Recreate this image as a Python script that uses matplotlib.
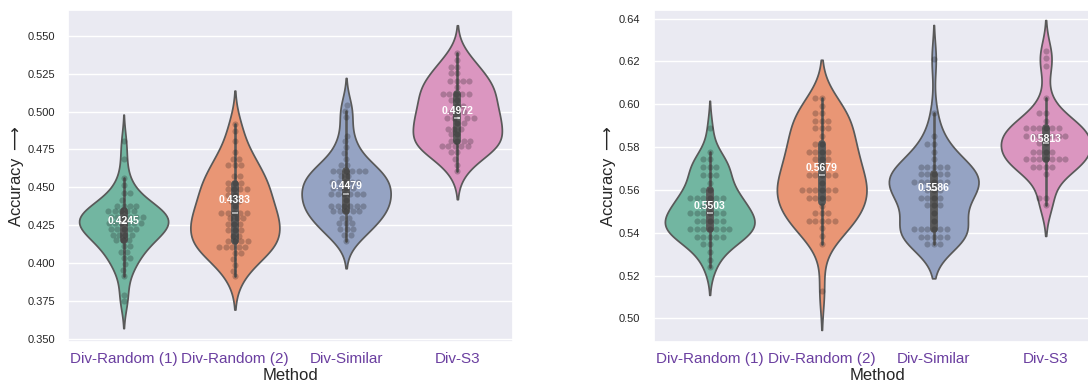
import numpy as np
import pandas as pd
import seaborn as sns
import matplotlib.pyplot as plt

methods = ["Div-Random (1)", "Div-Random (2)", "Div-Similar", "Div-S3"]

# left panel: accuracy levels and how many runs sit on each
left_r1_lv = [0.4803, 0.4687, 0.4565, 0.4517, 0.4462, 0.4418, 0.4379, 0.4341, 0.4304, 0.4265, 0.4227,
              0.4187, 0.4150, 0.4110, 0.4071, 0.4034, 0.3994, 0.3957, 0.3917, 0.3792, 0.3748]
left_r1_n = [1, 1, 1, 1, 2, 1, 4, 5, 6, 6, 5, 4, 3, 2, 2, 2, 1, 1, 1, 1, 1]
left_r2_lv = [0.4920, 0.4869, 0.4803, 0.4730, 0.4687, 0.4649, 0.4572, 0.4532, 0.4491, 0.4451, 0.4407, 0.4374,
              0.4334, 0.4297, 0.4260, 0.4220, 0.4181, 0.4143, 0.4104, 0.4067, 0.4027, 0.3989, 0.3950, 0.3912]
left_r2_n = [1, 1, 1, 1, 2, 3, 2, 3, 4, 2, 2, 1, 5, 3, 3, 3, 2, 4, 5, 2, 1, 1, 1, 1]
left_sim_lv = [0.5040, 0.5001, 0.4961, 0.4842, 0.4803, 0.4763, 0.4726, 0.4689, 0.4649, 0.4610, 0.4572,
               0.4535, 0.4495, 0.4456, 0.4418, 0.4379, 0.4341, 0.4301, 0.4265, 0.4225, 0.4187, 0.4148]
left_sim_n = [1, 1, 1, 1, 1, 1, 1, 1, 2, 6, 2, 5, 4, 6, 1, 6, 5, 2, 3, 3, 2, 1]
left_s3_lv = [0.5386, 0.5342, 0.5297, 0.5254, 0.5199, 0.5159, 0.5117, 0.5078, 0.5034, 0.4994,
              0.4957, 0.4924, 0.4887, 0.4852, 0.4809, 0.4770, 0.4733, 0.4687, 0.4649, 0.4605]
left_s3_n = [1, 1, 2, 2, 4, 1, 5, 2, 2, 3, 4, 2, 3, 2, 4, 5, 2, 1, 1, 1]
left_means = [0.4245, 0.4383, 0.4479, 0.4972]

# right panel
right_r1_lv = [0.5887, 0.5778, 0.5744, 0.5708, 0.5670, 0.5634, 0.5600, 0.5564, 0.5527,
               0.5491, 0.5455, 0.5418, 0.5382, 0.5346, 0.5312, 0.5273, 0.5239]
right_r1_n = [1, 1, 2, 3, 3, 1, 2, 6, 2, 6, 5, 7, 5, 2, 1, 1, 1]
right_r2_lv = [0.6027, 0.5993, 0.5957, 0.5923, 0.5887, 0.5851, 0.5814, 0.5778, 0.5743, 0.5705, 0.5669,
               0.5634, 0.5598, 0.5561, 0.5526, 0.5491, 0.5455, 0.5421, 0.5385, 0.5348, 0.5127]
right_r2_n = [2, 1, 2, 3, 3, 1, 2, 4, 3, 1, 5, 1, 6, 4, 1, 3, 5, 1, 1, 1, 1]
right_sim_lv = [0.6209, 0.5957, 0.5851, 0.5814, 0.5778, 0.5743, 0.5708, 0.5673, 0.5635,
                0.5600, 0.5564, 0.5530, 0.5491, 0.5456, 0.5419, 0.5382, 0.5348]
right_sim_n = [1, 1, 1, 2, 1, 1, 5, 5, 6, 3, 4, 3, 1, 1, 6, 5, 3]
right_s3_lv = [0.6248, 0.6214, 0.6178, 0.6030, 0.5957, 0.5923, 0.5887, 0.5851,
               0.5817, 0.5778, 0.5743, 0.5708, 0.5673, 0.5564, 0.5530]
right_s3_n = [1, 1, 1, 1, 2, 1, 6, 7, 2, 4, 7, 4, 1, 2, 1]
right_means = [0.5503, 0.5679, 0.5586, 0.5813]


def make_df(groups):
    rows = []
    for m, (lv, n) in zip(methods, groups):
        for v in np.repeat(lv, n):
            rows.append((m, v))
    return pd.DataFrame(rows, columns=["Method", "Accuracy"])


df_left = make_df([(left_r1_lv, left_r1_n), (left_r2_lv, left_r2_n),
                   (left_sim_lv, left_sim_n), (left_s3_lv, left_s3_n)])
df_right = make_df([(right_r1_lv, right_r1_n), (right_r2_lv, right_r2_n),
                    (right_sim_lv, right_sim_n), (right_s3_lv, right_s3_n)])

sns.set_theme(style="darkgrid")
plt.rcParams["font.family"] = ["Liberation Sans", "DejaVu Sans"]

fig = plt.figure(figsize=(10.88, 3.84), dpi=100)
ax1 = fig.add_axes([0.0625, 0.1094, 0.409, 0.8646])
ax2 = fig.add_axes([0.6008, 0.1094, 0.4118, 0.8646])


def draw(ax, df, means, ylim):
    sns.violinplot(data=df, x="Method", y="Accuracy", hue="Method", palette="Set2",
                   inner="box", legend=False, ax=ax, order=methods)
    sns.swarmplot(data=df, x="Method", y="Accuracy", color="k", alpha=0.25,
                  size=4.4, ax=ax, order=methods)
    for i, m in enumerate(means):
        ax.text(i, m, f"{m:.4f}", color="white", ha="center", va="bottom",
                fontsize=7.5, fontweight="bold")
    ax.set_ylim(*ylim)
    ax.set_xlabel("Method", fontsize=12, labelpad=2)
    ax.set_ylabel(r"Accuracy $\longrightarrow$", fontsize=12, labelpad=0.5)
    ax.tick_params(axis="y", labelsize=8)
    ax.tick_params(axis="x", labelsize=11, labelcolor="#6b3fa0", pad=1)


draw(ax1, df_left, left_means, (0.348, 0.567))
draw(ax2, df_right, right_means, (0.489, 0.644))

fig.savefig("out.png", dpi=100)
